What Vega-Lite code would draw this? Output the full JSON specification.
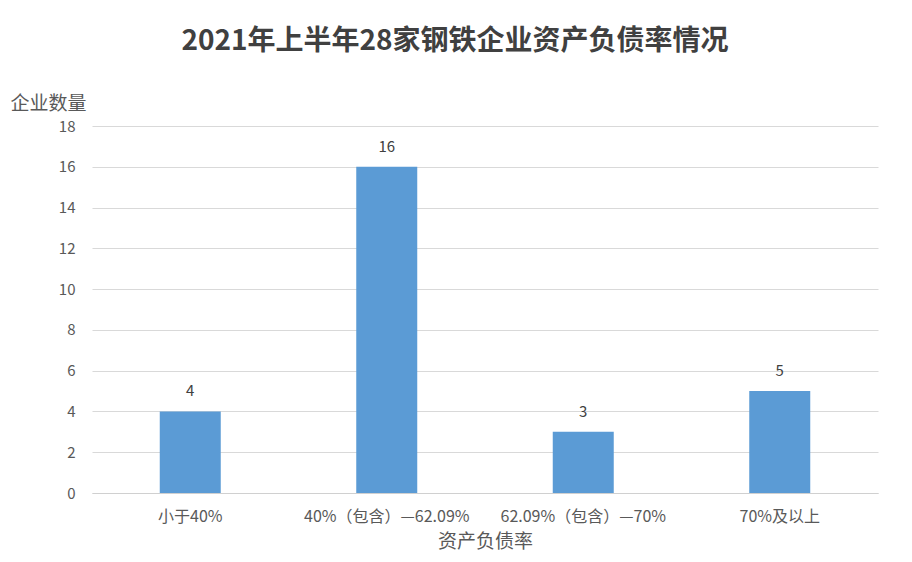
{
  "$schema": "https://vega.github.io/schema/vega-lite/v6.json",
  "autosize": {"type": "none"},
  "width": 786,
  "height": 367,
  "padding": {"left": 92, "top": 126, "right": 34, "bottom": 69},
  "background": "white",
  "title": {
    "text": "2021年上半年28家钢铁企业资产负债率情况",
    "font": "Noto Sans CJK SC",
    "fontSize": 28,
    "fontWeight": "bold",
    "color": "#404040",
    "anchor": "middle",
    "dx": -30,
    "offset": 38
  },
  "data": {
    "values": [
      {"category": "小于40%", "count": 4},
      {"category": "40%（包含）—62.09%", "count": 16},
      {"category": "62.09%（包含）—70%", "count": 3},
      {"category": "70%及以上", "count": 5}
    ]
  },
  "encoding": {
    "x": {
      "field": "category",
      "type": "nominal",
      "sort": null,
      "scale": {"paddingInner": 0, "paddingOuter": 0},
      "axis": {
        "title": "资产负债率",
        "labelAngle": 0,
        "ticks": false,
        "labelPadding": 15,
        "labelFontSize": 16,
        "labelColor": "#595959",
        "labelFont": "Noto Sans CJK SC",
        "titleFont": "Noto Sans CJK SC",
        "titleFontSize": 19,
        "titleFontWeight": "normal",
        "titleColor": "#595959",
        "titlePadding": 8,
        "domainColor": "#d0d0d0",
        "grid": false
      }
    },
    "y": {
      "field": "count",
      "type": "quantitative",
      "scale": {"domain": [0, 18]},
      "axis": {
        "values": [0, 2, 4, 6, 8, 10, 12, 14, 16, 18],
        "title": "企业数量",
        "titleAngle": 0,
        "titleAlign": "left",
        "titleBaseline": "middle",
        "titleX": -82,
        "titleY": -23,
        "titleFont": "Noto Sans CJK SC",
        "titleFontSize": 19,
        "titleFontWeight": "normal",
        "titleColor": "#595959",
        "labelFontSize": 15,
        "labelColor": "#595959",
        "labelFont": "Noto Sans CJK SC",
        "labelPadding": 17,
        "ticks": false,
        "domain": false,
        "grid": true,
        "gridColor": "#d9d9d9"
      }
    }
  },
  "layer": [
    {"mark": {"type": "bar", "color": "#5b9bd5", "size": 61}},
    {
      "mark": {"type": "text", "baseline": "bottom", "dy": -12, "fontSize": 15, "color": "#404040", "font": "Noto Sans CJK SC"},
      "encoding": {"text": {"field": "count"}}
    }
  ],
  "config": {"view": {"stroke": null}}
}
